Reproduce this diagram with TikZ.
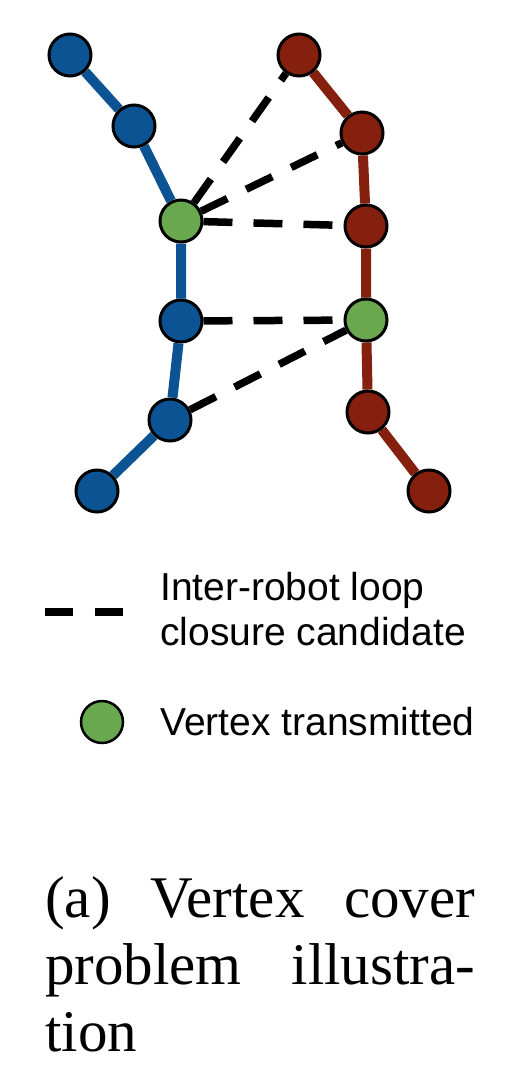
\documentclass[tikz,border=0pt]{standalone}
\usepackage{fontspec}
\setmainfont{Liberation Serif}
\setsansfont{Liberation Sans}
\usepackage{xcolor}
\definecolor{robotblue}{RGB}{12,83,148}
\definecolor{robotred}{RGB}{133,32,14}
\definecolor{sentgreen}{RGB}{106,168,79}
\usetikzlibrary{backgrounds}

\begin{document}
\begin{tikzpicture}[x=1pt,y=-1pt]
%\draw [help lines] (0,0) grid (512,1080);
\tikzset{
	vertA/.style={
		circle,
		inner sep=0pt,
		draw=black,
		line width=3pt,
		fill=robotblue,
		minimum size=42pt
	},
	vertB/.style={
		circle,
		inner sep=0pt,
		draw=black,
		line width=3pt,
		fill=robotred,
		minimum size=42pt
	},
	vertC/.style={
		circle,
		inner sep=0pt,
		draw=black,
		line width=3pt,
		fill=sentgreen,
		minimum size=42pt
	},
	trajA/.style={draw=robotblue, line width=10pt},
	trajB/.style={draw=robotred, line width=10pt},
	loopedge/.style={draw=black, line width=7.5pt, dash pattern=on 29pt off 21pt},
	legtext/.style={anchor=base west, inner sep=0pt, align=left,
		font=\sffamily\fontsize{39}{45}\selectfont},
}
\useasboundingbox (0,0) rectangle (512,1080);

% robot A
\node (a1) [vertA] at (70,55) {};
\node (a2) [vertA] at (134,126) {};
\node (a3) [vertC] at (181,221) {};
\node (a4) [vertA] at (181,321) {};
\node (a5) [vertA] at (170,420) {};
\node (a6) [vertA] at (97,491) {};
% robot B
\node (b1) [vertB] at (299,55) {};
\node (b2) [vertB] at (362,133) {};
\node (b3) [vertB] at (366,226) {};
\node (b4) [vertC] at (366,320) {};
\node (b5) [vertB] at (368,412) {};
\node (b6) [vertB] at (429,491) {};

\begin{scope}[on background layer]
\draw [trajA] (a1) -- (a2) -- (a3) -- (a4) -- (a5) -- (a6);
\draw [trajB] (b1) -- (b2) -- (b3) -- (b4) -- (b5) -- (b6);
\end{scope}
\draw [loopedge] (a3) -- (b1);
\draw [loopedge] (a3) -- (b2);
\draw [loopedge] (a3) -- (b3);
\draw [loopedge] (a4) -- (b4);
\draw [loopedge] (a5) -- (b4);

% legend
\coordinate (l1) at (45,612);
\coordinate (l2) at (124,612);
\draw [loopedge, dash pattern=on 28pt off 22pt] (l1) -- (l2);
\node (t1) [legtext] at (160,645) {Inter-robot loop\\closure candidate};
\node (g) [vertC, line width=2.5pt] at (102,722) {};
\node (t2) [legtext] at (160,735) {Vertex transmitted};

% caption
\node (cap) [anchor=north west, inner sep=0pt, text width=430pt, align=justify,
	font=\rmfamily\fontsize{59}{67}\selectfont] at (45,876)
	{(a) Vertex cover problem illustra\-tion};
\end{tikzpicture}
\end{document}
